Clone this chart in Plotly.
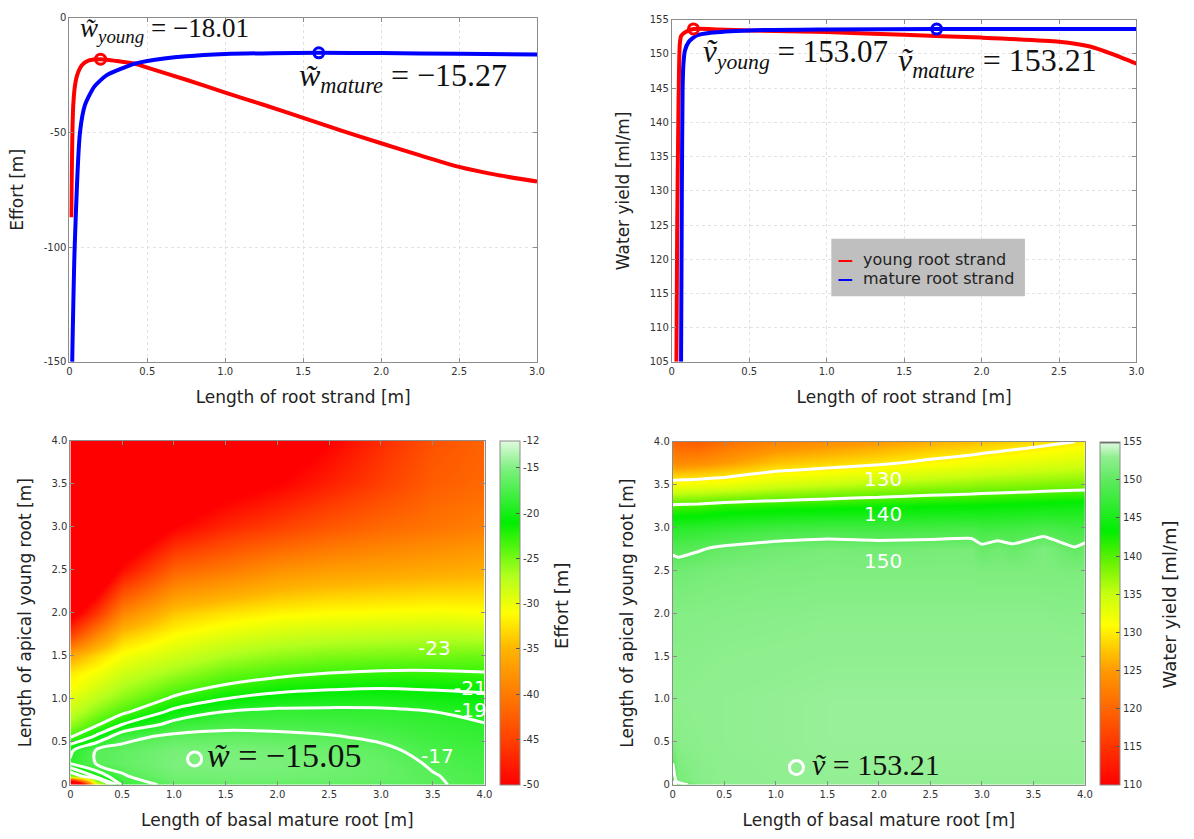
import plotly.graph_objects as go

W, H = 1194, 839

# ---------------- top-left: effort vs strand length ----------------
young_len_e = [0.012, 0.015, 0.02, 0.025, 0.035, 0.05, 0.08, 0.125, 0.2, 0.3, 0.42, 0.5, 0.75,
               1.0, 1.25, 1.5, 1.75, 2.0, 2.25, 2.5, 2.75, 3.0]
young_effort = [-87, -70, -48, -38, -30, -25, -20.7, -18.6, -18.01, -18.8, -20, -21.7, -27,
                -32.6, -38, -43.6, -49.3, -54.7, -60, -65, -68.6, -71.4]
mature_len_e = [0.018, 0.034, 0.068, 0.1, 0.16, 0.24, 0.42, 0.5, 0.75, 1.0, 1.3, 1.6, 2.0, 2.5, 3.0]
mature_effort = [-150, -100, -50, -38, -30, -25, -20, -18.8, -16.8, -15.8, -15.4, -15.27, -15.35, -15.7, -16.0]
opt_young_e = [0.2, -18.01]
opt_mature_e = [1.6, -15.27]

# ---------------- top-right: water yield vs strand length ----------------
young_len_v = [0.03, 0.035, 0.042, 0.047, 0.052, 0.06, 0.08, 0.14, 0.3, 0.5, 1.0, 1.5, 2.0,
               2.5, 2.7, 2.85, 3.0]
young_yield = [105, 125, 140, 148, 151.5, 152.6, 153.1, 153.66, 153.6, 153.45, 153.2, 152.8,
               152.4, 151.8, 151.1, 149.95, 148.6]
mature_len_v = [0.06, 0.065, 0.07, 0.075, 0.085, 0.11, 0.16, 0.25, 0.5, 1.0, 1.7, 3.0]
mature_yield = [105, 130, 145, 148.5, 150.5, 151.8, 152.7, 153.1, 153.45, 153.58, 153.65, 153.65]
opt_young_v = [0.14, 153.66]
opt_mature_v = [1.71, 153.65]

# ---------------- bottom-left: effort map ----------------
effort_x = [0, 0.25, 0.5, 1.0, 1.5, 2.0, 2.5, 3.0, 3.5, 4.0]
effort_y = [0, 0.1, 0.25, 0.4, 0.55, 0.7, 0.85, 1.0, 1.15, 1.3, 1.5, 1.75, 2.0, 2.5, 3.0, 3.5, 4.0]
effort_cols = [
    [-75, -25, -18.8, -19.3, -23, -26, -28, -29.5, -31, -32, -36, -45, -52, -60, -65, -68, -70],
    [-30, -20.5, -16.9, -16.9, -20.5, -23.3, -25.5, -27.3, -29, -30.5, -33, -39, -46, -56, -62, -66, -68],
    [-18.5, -17.2, -16.3, -16.5, -17.5, -21, -23.5, -25.5, -27, -28.5, -30.5, -34, -39, -49, -56, -61, -64],
    [-16.3, -15.6, -15.15, -15.4, -16.5, -18.3, -20.5, -22.6, -24.5, -26.3, -28.5, -31, -34, -42, -50, -55, -58],
    [-16.2, -15.5, -15.1, -15.3, -16.3, -17.6, -19, -21, -22.8, -24.5, -26.8, -29.5, -32.5, -40, -47, -52, -55],
    [-16.2, -15.6, -15.3, -15.5, -16.5, -17.6, -18.6, -20.2, -21.9, -23.6, -25.8, -28.5, -31.5, -38, -45, -50, -53],
    [-16.3, -15.8, -15.6, -15.9, -16.8, -17.8, -18.6, -19.9, -21.5, -23, -25.2, -28, -31, -37, -43, -47.5, -50],
    [-16.5, -16.2, -16.2, -16.6, -17.3, -18.1, -18.7, -19.8, -21.3, -22.7, -25, -27.7, -30.8, -36.5, -41.5, -45, -46.5],
    [-16.8, -16.9, -17.2, -17.6, -18.1, -18.5, -19, -20.2, -21.4, -22.7, -24.8, -27.4, -30.5, -36, -40.5, -42.5, -43.5],
    [-17.5, -17.6, -17.8, -18.1, -18.5, -18.9, -19.7, -20.5, -21.6, -22.9, -24.6, -27.5, -30.8, -35.5, -39.5, -41.5, -42],
]
effort_levels = [-23, -21, -19, -17]
effort_label_pos = [[3.52, 1.59], [3.86, 1.12], [3.86, 0.87], [3.55, 0.33]]
opt_effort_map = [1.2, 0.3, -15.05]
effort_ticks = [-12, -15, -20, -25, -30, -35, -40, -45, -50]

# ---------------- bottom-right: water-yield map ----------------
yield_x = [0, 0.05, 0.25, 0.5, 1.0, 1.5, 2.0, 2.5, 2.9, 3.0, 3.15, 3.3, 3.6, 3.9, 4.0]
yield_y = [0, 0.05, 0.5, 1.0, 1.5, 2.0, 2.5, 2.75, 3.0, 3.25, 3.5, 3.75, 4.0]
yield_cols = [
    [112, 148, 152.5, 152.8, 152.6, 152.3, 151.2, 149.5, 146, 140.5, 131.5, 124, 120],
    [148, 151.5, 152.6, 152.8, 152.6, 152.3, 151.1, 149.3, 146.2, 140.6, 131.7, 123.5, 119.5],
    [152.2, 152.5, 152.8, 152.9, 152.7, 152.4, 151.4, 149.8, 146.5, 140.8, 132, 124, 119],
    [152.8, 152.9, 153.0, 153.0, 152.8, 152.5, 151.7, 150.5, 147, 141.5, 132.5, 125, 121],
    [153.0, 153.0, 153.1, 153.1, 152.9, 152.6, 151.9, 151.2, 147.8, 142, 134, 127.5, 123],
    [153.1, 153.1, 153.2, 153.2, 153.0, 152.7, 152.0, 151.6, 148.1, 142.4, 135, 128.5, 124],
    [153.1, 153.1, 153.2, 153.2, 153.0, 152.7, 152.0, 151.3, 148, 142.8, 136, 129.5, 125],
    [153.1, 153.1, 153.2, 153.2, 153.0, 152.7, 152.0, 151.5, 148.1, 143.2, 136.8, 130.8, 126.3],
    [153.1, 153.1, 153.2, 153.2, 153.0, 152.7, 152.0, 151.6, 148.3, 143.4, 137.3, 131.7, 127.2],
    [153.1, 153.1, 153.2, 153.2, 153.0, 152.7, 151.9, 150.6, 147.8, 143.5, 137.5, 132, 127.5],
    [153.1, 153.1, 153.2, 153.2, 153.0, 152.7, 151.9, 151.2, 148.0, 143.65, 137.65, 132.3, 128],
    [153.1, 153.1, 153.2, 153.2, 153.0, 152.7, 151.9, 150.6, 148.0, 143.8, 137.8, 132.6, 128.4],
    [153.1, 153.1, 153.2, 153.2, 153.0, 152.7, 151.9, 151.9, 148.6, 144.1, 138.1, 133.2, 129.2],
    [153.1, 153.1, 153.2, 153.2, 153.0, 152.6, 151.8, 150.2, 147.9, 144.4, 138.4, 133.8, 130],
    [153.1, 153.1, 153.2, 153.2, 153.0, 152.6, 151.8, 150.8, 148.0, 144.5, 138.5, 134, 130.2],
]
yield_levels = [130, 140, 150]
yield_label_pos = [[2.04, 3.56], [2.04, 3.16], [2.04, 2.61]]
opt_yield_map = [1.2, 0.2, 153.21]
yield_ticks = [110, 115, 120, 125, 130, 135, 140, 145, 150, 155]

len_ticks = [0, 0.5, 1.0, 1.5, 2.0, 2.5, 3.0]
len_ticktext = ["0", "0.5", "1.0", "1.5", "2.0", "2.5", "3.0"]
map_ticks = [0, 0.5, 1.0, 1.5, 2.0, 2.5, 3.0, 3.5, 4.0]
map_ticktext = ["0", "0.5", "1.0", "1.5", "2.0", "2.5", "3.0", "3.5", "4.0"]

legend_names = ["young root strand", "mature root strand"]
legend_colors = ["#ff0000", "#0000ff"]

effort_cs = [[0.0, "#ff0000"], [0.1316, "#ff4000"], [0.263, "#ff7a00"], [0.395, "#ffb400"],
             [0.5, "#ffff00"], [0.605, "#b4ff1e"], [0.763, "#00ee00"], [0.921, "#80f080"],
             [1.0, "#e0fae0"]]
yield_cs = [[0.0, "#ff0000"], [0.111, "#ff3300"], [0.222, "#ff6600"], [0.333, "#ff9900"],
            [0.467, "#ffff00"], [0.556, "#c8ff10"], [0.667, "#55f000"], [0.74, "#00ee00"],
            [0.889, "#5eea5e"], [0.956, "#90ef90"], [0.994, "#d8f8d8"], [1.0, "#202020"]]


def transpose(cols):
    return [list(r) for r in zip(*cols)]


def px_x(a, b):
    return [a / W, b / W]


def px_y(top, bottom):
    return [1 - bottom / H, 1 - top / H]


FONT = "DejaVu Sans"
SERIF = "Liberation Serif"
GRID = "#e2e2e2"
FRAME = "#8c8c8c"

fig = go.Figure()


def line_trace(x, y, color, xa, ya):
    return go.Scatter(x=x, y=y, mode="lines", line=dict(color=color, width=4, shape="spline", smoothing=0.6),
                      xaxis=xa, yaxis=ya, showlegend=False)


def ring(pt, color, xa, ya, size=10, width=3):
    return go.Scatter(x=[pt[0]], y=[pt[1]], mode="markers",
                      marker=dict(symbol="circle-open", size=size, color=color,
                                  line=dict(color=color, width=width)),
                      xaxis=xa, yaxis=ya, showlegend=False)


fig.add_trace(line_trace(young_len_e, young_effort, legend_colors[0], "x", "y"))
fig.add_trace(line_trace(mature_len_e, mature_effort, legend_colors[1], "x", "y"))
fig.add_trace(ring(opt_young_e, legend_colors[0], "x", "y"))
fig.add_trace(ring(opt_mature_e, legend_colors[1], "x", "y"))

fig.add_trace(line_trace(young_len_v, young_yield, legend_colors[0], "x2", "y2"))
fig.add_trace(line_trace(mature_len_v, mature_yield, legend_colors[1], "x2", "y2"))
fig.add_trace(ring(opt_young_v, legend_colors[0], "x2", "y2"))
fig.add_trace(ring(opt_mature_v, legend_colors[1], "x2", "y2"))

cb_common = dict(thickness=20, lenmode="fraction", outlinecolor=FRAME, outlinewidth=1,
                 ticks="inside", ticklen=4, tickcolor="#555", xanchor="left", yanchor="bottom",
                 tickfont=dict(family=FONT, size=10, color="#333"), xpad=0, ypad=0)

effort_z = transpose(effort_cols)
fig.add_trace(go.Heatmap(x=effort_x, y=effort_y, z=effort_z, zsmooth="best", colorscale=effort_cs,
                         zmin=-50, zmax=-12, xaxis="x3", yaxis="y3",
                         colorbar=dict(x=502 / W, y=1 - 790 / H, len=349 / H,
                                       tickvals=effort_ticks, ticktext=[str(t) for t in effort_ticks],
                                       **cb_common)))
fig.add_trace(go.Contour(x=effort_x, y=effort_y, z=effort_z, xaxis="x3", yaxis="y3", showscale=False,
                         contours=dict(coloring="none", start=effort_levels[0], end=effort_levels[-1],
                                       size=2, showlabels=False),
                         line=dict(color="white", width=3, smoothing=1.0), hoverinfo="skip"))
fig.add_trace(ring(opt_effort_map, "white", "x3", "y3", size=14, width=3))

yield_z = transpose(yield_cols)
fig.add_trace(go.Heatmap(x=yield_x, y=yield_y, z=yield_z, zsmooth="best", colorscale=yield_cs,
                         zmin=110, zmax=155, xaxis="x4", yaxis="y4",
                         colorbar=dict(x=1107 / W, y=1 - 790 / H, len=348 / H,
                                       tickvals=yield_ticks, ticktext=[str(t) for t in yield_ticks],
                                       **cb_common)))
fig.add_trace(go.Contour(x=yield_x, y=yield_y, z=yield_z, xaxis="x4", yaxis="y4", showscale=False,
                         contours=dict(coloring="none", start=yield_levels[0], end=yield_levels[-1],
                                       size=10, showlabels=False),
                         line=dict(color="white", width=3, smoothing=0.3), hoverinfo="skip"))
fig.add_trace(ring(opt_yield_map, "white", "x4", "y4", size=14, width=3))


def axis(domain, rng, tickvals, ticktext, title, anchor, grid=True):
    return dict(domain=domain, range=rng, tickvals=tickvals, ticktext=ticktext, anchor=anchor,
                showline=True, linecolor=FRAME, linewidth=1, mirror="ticks",
                ticks="inside", ticklen=4, tickcolor=FRAME,
                tickfont=dict(family=FONT, size=10, color="#333"),
                showgrid=grid, gridcolor=GRID, griddash="dot", zeroline=False,
                title=dict(text=title, font=dict(family=FONT, size=17, color="#222")),
                layer="above traces")


eff_ticks = [0, -50, -100, -150]
v_ticks = [105, 110, 115, 120, 125, 130, 135, 140, 145, 150, 155]

fig.update_layout(
    width=W, height=H, margin=dict(l=0, r=0, t=0, b=0),
    paper_bgcolor="white", plot_bgcolor="white", showlegend=False,
    xaxis=axis(px_x(67, 539), [0, 3], len_ticks, len_ticktext, "Length of root strand [m]", "y"),
    yaxis=axis(px_y(12, 361), [-150, 0], eff_ticks, [str(t) for t in eff_ticks], "Effort [m]", "x"),
    xaxis2=axis(px_x(675, 1144), [0, 3], len_ticks, len_ticktext, "Length of root strand [m]", "y2"),
    yaxis2=axis(px_y(14, 361), [105, 155], v_ticks, [str(t) for t in v_ticks], "Water yield [ml/m]", "x2"),
    xaxis3=axis(px_x(68, 486), [0, 4], map_ticks, map_ticktext, "Length of basal mature root [m]", "y3", grid=False),
    yaxis3=axis(px_y(441, 790), [0, 4], map_ticks, map_ticktext, "Length of apical young root [m]", "x3", grid=False),
    xaxis4=axis(px_x(676, 1092), [0, 4], map_ticks, map_ticktext, "Length of basal mature root [m]", "y4", grid=False),
    yaxis4=axis(px_y(442, 790), [0, 4], map_ticks, map_ticktext, "Length of apical young root [m]", "x4", grid=False),
)

ann = []


def mfont(size):
    return dict(family=SERIF, size=size, color="#111")


ann.append(dict(xref="x", yref="y", x=0.055, y=-5.5, xanchor="left", yanchor="middle", showarrow=False,
                text="<i>w̃</i><sub><i>young</i></sub> = −%.2f" % -opt_young_e[1], font=mfont(27)))
ann.append(dict(xref="x", yref="y", x=1.46, y=-26, xanchor="left", yanchor="middle", showarrow=False,
                text="<i>w̃</i><sub><i>mature</i></sub> = −%.2f" % -opt_mature_e[1], font=mfont(32)))
ann.append(dict(xref="x2", yref="y2", x=0.19, y=150.0, xanchor="left", yanchor="middle", showarrow=False,
                text="<i>ṽ</i><sub><i>young</i></sub> = 153.07", font=mfont(31)))
ann.append(dict(xref="x2", yref="y2", x=1.45, y=148.8, xanchor="left", yanchor="middle", showarrow=False,
                text="<i>ṽ</i><sub><i>mature</i></sub> = 153.21", font=mfont(32)))
ann.append(dict(xref="x3", yref="y3", x=1.3, y=0.34, xanchor="left", yanchor="middle", showarrow=False,
                text="<i>w̃</i> = −%.2f" % -opt_effort_map[2], font=mfont(34)))
ann.append(dict(xref="x4", yref="y4", x=1.33, y=0.24, xanchor="left", yanchor="middle", showarrow=False,
                text="<i>ṽ</i> = %.2f" % opt_yield_map[2], font=mfont(30)))
for lvl, (lx, ly) in zip(effort_levels, effort_label_pos):
    ann.append(dict(xref="x3", yref="y3", x=lx, y=ly, showarrow=False, text=str(lvl),
                    font=dict(family=FONT, size=20, color="white")))
for lvl, (lx, ly) in zip(yield_levels, yield_label_pos):
    ann.append(dict(xref="x4", yref="y4", x=lx, y=ly, showarrow=False, text=str(lvl),
                    font=dict(family=FONT, size=20, color="white")))
# colorbar titles
ann.append(dict(xref="paper", yref="paper", x=563 / W, y=1 - 608 / H, showarrow=False, textangle=-90,
                xanchor="center", yanchor="middle",
                text="Effort [m]", font=dict(family=FONT, size=18, color="#222")))
ann.append(dict(xref="paper", yref="paper", x=1177 / W, y=1 - 607 / H, showarrow=False, textangle=-90,
                xanchor="center", yanchor="middle",
                text="Water yield [ml/m]", font=dict(family=FONT, size=18, color="#222")))

# legend box (data coordinates of the top-right panel)
shapes = [dict(type="rect", xref="x2", yref="y2", x0=1.03, x1=2.28, y0=114.6, y1=123.0,
               fillcolor="#bfbfbf", line=dict(width=0), layer="above")]
legend_rows = [120.0, 117.2]
for name, col, row in zip(legend_names, legend_colors, legend_rows):
    shapes.append(dict(type="line", xref="x2", yref="y2", x0=1.076, x1=1.165, y0=row - 0.25, y1=row - 0.25,
                       line=dict(color=col, width=2), layer="above"))
    ann.append(dict(xref="x2", yref="y2", x=1.22, y=row, xanchor="left", yanchor="middle",
                    showarrow=False, text=name, font=dict(family=FONT, size=16, color="#222")))

fig.update_layout(annotations=ann, shapes=shapes)
fig.write_html("out.html")
